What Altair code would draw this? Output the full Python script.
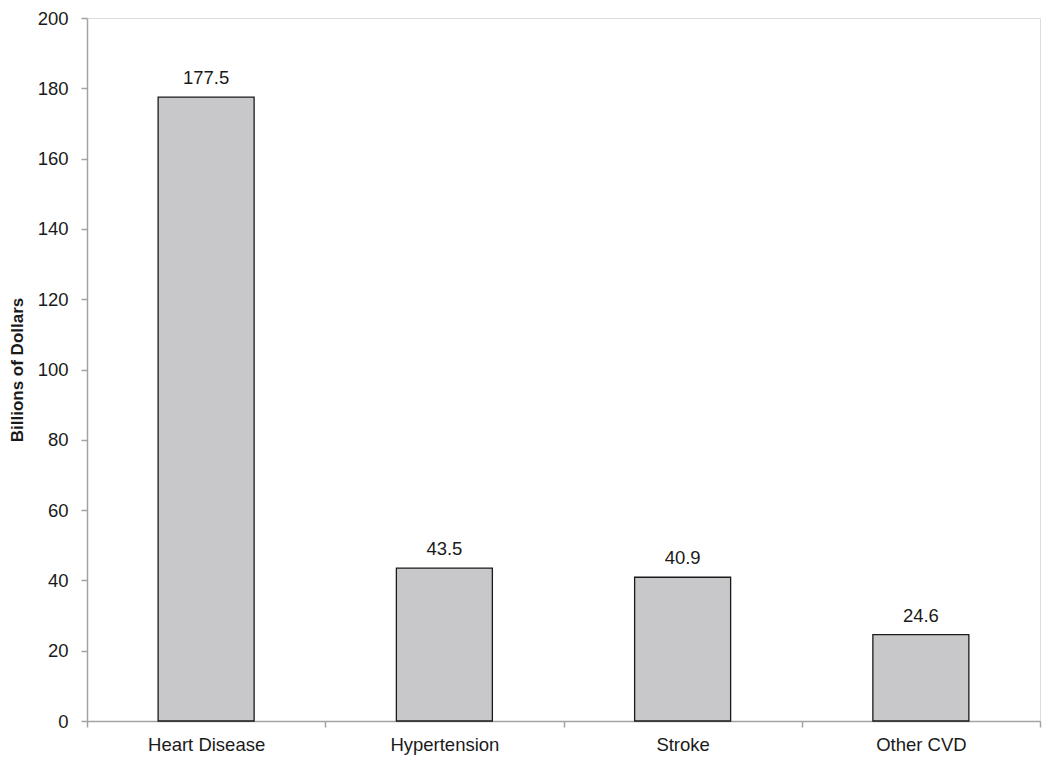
import altair as alt
import pandas as pd

categories = ["Heart Disease", "Hypertension", "Stroke", "Other CVD"]
values = [177.5, 43.5, 40.9, 24.6]
labels = ["177.5", "43.5", "40.9", "24.6"]
y_ticks = [0, 20, 40, 60, 80, 100, 120, 140, 160, 180, 200]

df = pd.DataFrame({"cat": categories, "val": values, "lab": labels})

FONT = "Liberation Sans"
TXT = "#1a1a1a"
GRAY = "#a3a3a3"
FS = 18.5

x = alt.X("cat:N", sort=categories, title=None,
          scale=alt.Scale(paddingInner=0, paddingOuter=0),
          axis=alt.Axis(labelAngle=0, tickBand="extent", labelFontSize=FS,
                        labelFont=FONT, labelColor=TXT, labelPadding=8,
                        tickSize=6, tickColor=GRAY, domainColor=GRAY,
                        domainWidth=1.5, tickWidth=1.5, grid=False))
y = alt.Y("val:Q", title="Billions of Dollars",
          scale=alt.Scale(domain=[0, 200], nice=False),
          axis=alt.Axis(values=y_ticks, labelFontSize=FS, labelFont=FONT,
                        labelColor=TXT, labelPadding=13, tickSize=6,
                        tickColor=GRAY, domainColor=GRAY, domainWidth=1.5,
                        tickWidth=1.5, grid=False, titleFont=FONT,
                        titleFontSize=17, titleFontWeight="bold",
                        titleColor=TXT, titlePadding=11))

bars = alt.Chart(df).mark_bar(size=96, color="#c8c8ca", stroke="#1a1a1a",
                              strokeWidth=1.3).encode(x=x, y=y)
text = alt.Chart(df).mark_text(font=FONT, fontSize=FS, color=TXT,
                               baseline="alphabetic", dy=-13).encode(
    x=alt.X("cat:N", sort=categories), y="val:Q", text="lab:N")

chart = alt.layer(bars, text).properties(
    width=953, height=703,
    autosize=alt.AutoSizeParams(type="none"),
    padding={"left": 79, "top": 10, "right": 2, "bottom": 34},
).configure_view(stroke="#333333", strokeWidth=1.5).configure(background="white")

chart.save("out.html", embed_options={"renderer": "svg", "actions": False})
